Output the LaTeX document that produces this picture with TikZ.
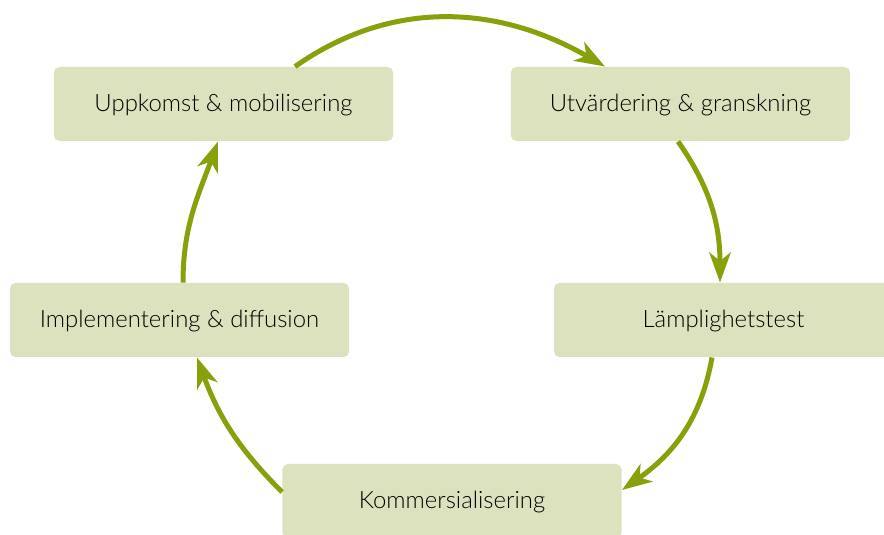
\documentclass[tikz,border=0pt]{standalone}
\usepackage{fontspec}
\setmainfont{Lato}[UprightFont=*-Light]
\usetikzlibrary{arrows.meta,calc}
\definecolor{boxgreen}{HTML}{DCE2BE}
\definecolor{arrowgreen}{HTML}{86A10A}
\tikzset{
  phase/.style={fill=boxgreen,rounded corners=0.8mm,minimum width=50.85mm,minimum height=11.1mm,
    inner sep=0pt,font=\fontsize{10.2}{12}\selectfont,text=black,text depth=0.3mm},
  flow/.style={arrowgreen,line width=0.75mm,-{Stealth[length=4.5mm,width=3.2mm,inset=1.3mm]}}
}
\begin{document}
\begin{tikzpicture}[x=0.15mm,y=0.15mm]
\useasboundingbox (0,0) rectangle (884,535);
%% the phases
\node[phase] (upp) at (223.5,431) {Uppkomst \& mobilisering};
\node[phase] (utv) at (680.5,431) {Utvärdering \& granskning};
\node[phase] (lamp) at (723.5,215) {Lämplighetstest};
\node[phase] (komm) at (452,34) {Kommersialisering};
\node[phase] (impl) at (179.5,215) {Implementering \& diffusion};
%% the cycle
\draw[flow] ($(upp.north)+(71.5,0)$) to[out=35,in=150] ($(utv.north)+(-75.5,0)$);
\draw[flow] ($(utv.south)+(-2.5,0)$) to[out=-55,in=90] ($(lamp.north)+(-3.5,0)$);
\draw[flow] ($(lamp.south)+(-11.5,0)$) to[out=-100,in=35] ($(komm.east)+(0,11)$);
\draw[flow] ($(komm.west)+(0,9)$) to[out=135,in=-70] ($(impl.south)+(17.5,0)$);
\draw[flow] ($(impl.north)+(3.5,0)$) to[out=90,in=-110] ($(upp.south)+(-5.5,0)$);
\end{tikzpicture}
\end{document}
